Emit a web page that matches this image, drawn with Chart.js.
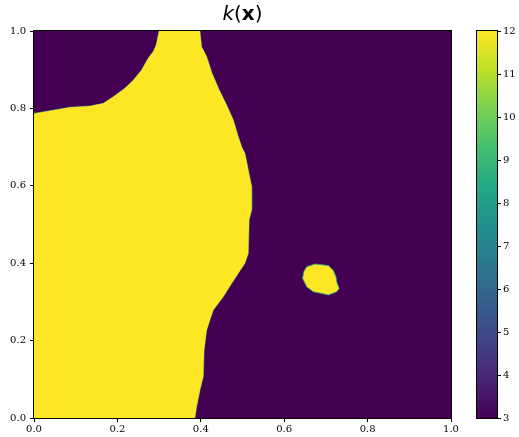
<!DOCTYPE html>
<html><head><meta charset="utf-8">
<script src="https://cdn.jsdelivr.net/npm/chart.js@4.4.1/dist/chart.umd.min.js"></script>
<style>
html,body{margin:0;padding:0;background:#fff;}
#wrap{position:relative;width:519px;height:437px;overflow:hidden;background:#fff;}
canvas{position:absolute;left:0;top:0;}
#title{position:absolute;left:34px;width:417px;top:3px;text-align:center;font-family:'DejaVu Sans';font-size:20px;line-height:20px;color:#000;white-space:nowrap;}
#title i{font-style:italic;}
#title b{font-weight:bold;}
</style></head><body>
<div id="wrap">
<canvas id="main" width="519" height="437"></canvas>
<canvas id="cbar" width="519" height="437"></canvas>
<div id="title"><i>k</i>(<b>x</b>)</div>
</div>
<script>
// ---- data ----
const axisTicks = [0.0, 0.2, 0.4, 0.6, 0.8, 1.0];
// large high-k region (k = 12): boundary polygon in data coordinates
const bigX = [0.000, 0.000, 0.038, 0.086, 0.134, 0.166, 0.190, 0.218, 0.238, 0.258, 0.274, 0.286, 0.293, 0.297, 0.300,
              0.398, 0.402, 0.414, 0.427, 0.444, 0.462, 0.478, 0.490, 0.499, 0.506, 0.514, 0.522, 0.522, 0.516, 0.514,
              0.506, 0.490, 0.472, 0.454, 0.430, 0.422, 0.414, 0.408, 0.406, 0.398, 0.390, 0.386];
const bigY = [0.000, 0.787, 0.794, 0.803, 0.806, 0.813, 0.830, 0.852, 0.873, 0.899, 0.930, 0.947, 0.964, 0.985, 1.000,
              1.000, 0.959, 0.934, 0.891, 0.848, 0.809, 0.770, 0.727, 0.698, 0.684, 0.641, 0.598, 0.537, 0.512, 0.426,
              0.400, 0.374, 0.344, 0.313, 0.279, 0.253, 0.227, 0.176, 0.107, 0.072, 0.029, 0.000];
// small high-k inclusion
const blobX = [0.654, 0.674, 0.706, 0.718, 0.724, 0.727, 0.732, 0.726, 0.706, 0.690, 0.670, 0.654, 0.644, 0.647, 0.654];
const blobY = [0.391, 0.398, 0.394, 0.381, 0.365, 0.348, 0.335, 0.326, 0.318, 0.322, 0.326, 0.339, 0.361, 0.378, 0.391];
const kLow = 3, kHigh = 12;
const kTicks = [3, 4, 5, 6, 7, 8, 9, 10, 11, 12];
const viridis = ['#440154','#482475','#414487','#355f8d','#2a788e','#21918c','#22a884','#44bf70','#7ad151','#bddf26','#fde725'];

// ---- chart ----
Chart.defaults.font.family = "'DejaVu Serif', serif";
Chart.defaults.font.size = 10;
Chart.defaults.color = '#000';

function cmap(k) { // colour of a k value through the viridis stops
  const t = Math.max(0, Math.min(1, (k - kLow) / (kHigh - kLow)));
  return viridis[Math.round(t * (viridis.length - 1))];
}
const edgeColor = 'rgba(42,164,137,0.85)';
function polySegColor(xs, ys) {
  return ctx => {
    const i = ctx.p0DataIndex, j = ctx.p1DataIndex;
    const onEdge = (xs[i] === 0 && xs[j] === 0) || (ys[i] === 0 && ys[j] === 0) || (ys[i] === 1 && ys[j] === 1) || (xs[i] === 1 && xs[j] === 1);
    return onEdge ? 'rgba(0,0,0,0)' : edgeColor;
  };
}
const toPts = (xs, ys) => xs.map((x, i) => ({x: x, y: ys[i]}));

const frame = {
  id: 'frame',
  beforeDraw(chart) {
    const a = chart.chartArea, c = chart.ctx;
    c.save();
    c.fillStyle = cmap(kLow);
    c.fillRect(a.left, a.top, a.right - a.left, a.bottom - a.top);
    c.restore();
  },
  afterDraw(chart) {
    const a = chart.chartArea, c = chart.ctx;
    c.save();
    c.strokeStyle = '#000';
    c.lineWidth = 1;
    c.strokeRect(Math.round(a.left) - 0.5, Math.round(a.top) - 0.5, Math.round(a.right - a.left) + 1, Math.round(a.bottom - a.top) + 1);
    c.restore();
  }
};

const axisCommon = {
  type: 'linear', min: 0, max: 1,
  afterBuildTicks: s => { s.ticks = axisTicks.map(v => ({value: v})); },
  ticks: {callback: v => Number(v).toFixed(1), maxRotation: 0, autoSkip: false, color: '#000'},
  grid: {drawOnChartArea: false, drawTicks: true, tickLength: 4, color: '#000', lineWidth: 1},
  border: {display: false}
};

new Chart(document.getElementById('main'), {
  type: 'scatter',
  data: {
    datasets: [
      {label: 'k = 12 region', data: toPts(bigX, bigY), showLine: true, fill: 'shape',
       backgroundColor: cmap(kHigh), borderWidth: 0, borderColor: cmap(kHigh), pointRadius: 0, tension: 0},
      {label: 'k = 12 region edge', data: toPts(bigX, bigY), showLine: true, fill: false,
       borderWidth: 1, borderColor: edgeColor,
       segment: {borderColor: polySegColor(bigX, bigY)}, pointRadius: 0, tension: 0},
      {label: 'k = 12 inclusion', data: toPts(blobX, blobY), showLine: true, fill: 'shape',
       backgroundColor: cmap(kHigh), borderWidth: 1, borderColor: edgeColor,
       pointRadius: 0, tension: 0}
    ]
  },
  options: {
    responsive: false, animation: false, devicePixelRatio: 1,
    layout: {padding: {left: 0, top: 31, right: 68, bottom: 0}},
    plugins: {legend: {display: false}, tooltip: {enabled: false}, title: {display: false}},
    scales: {
      x: Object.assign({}, axisCommon, {position: 'bottom', afterFit: s => { s.height = 19; },
           ticks: Object.assign({}, axisCommon.ticks, {padding: 1})}),
      y: Object.assign({}, axisCommon, {position: 'left', afterFit: s => { s.width = 34; },
           ticks: Object.assign({}, axisCommon.ticks, {padding: 4})})
    }
  },
  plugins: [frame]
});

const cbarFrame = {
  id: 'cbarFrame',
  afterDraw(chart) {
    const a = chart.chartArea, c = chart.ctx;
    c.save();
    c.strokeStyle = '#000';
    c.lineWidth = 1;
    c.strokeRect(Math.round(a.left) - 0.5, Math.round(a.top) - 0.5, Math.round(a.right - a.left) + 1, Math.round(a.bottom - a.top) + 1);
    c.restore();
  }
};

new Chart(document.getElementById('cbar'), {
  type: 'bar',
  data: {
    labels: ['k'],
    datasets: [{
      data: [[kLow, kHigh]],
      borderWidth: 0, barPercentage: 1, categoryPercentage: 1,
      backgroundColor: ctx => {
        const a = ctx.chart.chartArea;
        if (!a) return viridis[0];
        const g = ctx.chart.ctx.createLinearGradient(0, a.bottom, 0, a.top);
        viridis.forEach((col, i) => g.addColorStop(i / (viridis.length - 1), col));
        return g;
      }
    }]
  },
  options: {
    responsive: false, animation: false, devicePixelRatio: 1,
    layout: {padding: {left: 477, top: 31, right: 0, bottom: 19}},
    plugins: {legend: {display: false}, tooltip: {enabled: false}},
    scales: {
      x: {display: false},
      y: {position: 'right', min: kLow, max: kHigh,
          afterBuildTicks: s => { s.ticks = kTicks.map(v => ({value: v})); },
          afterFit: s => { s.width = 22; },
          ticks: {autoSkip: false, padding: 2, color: '#000'},
          grid: {drawOnChartArea: false, drawTicks: true, tickLength: 4, color: '#000', lineWidth: 1},
          border: {display: false}}
    }
  },
  plugins: [cbarFrame]
});
</script>
</body></html>
